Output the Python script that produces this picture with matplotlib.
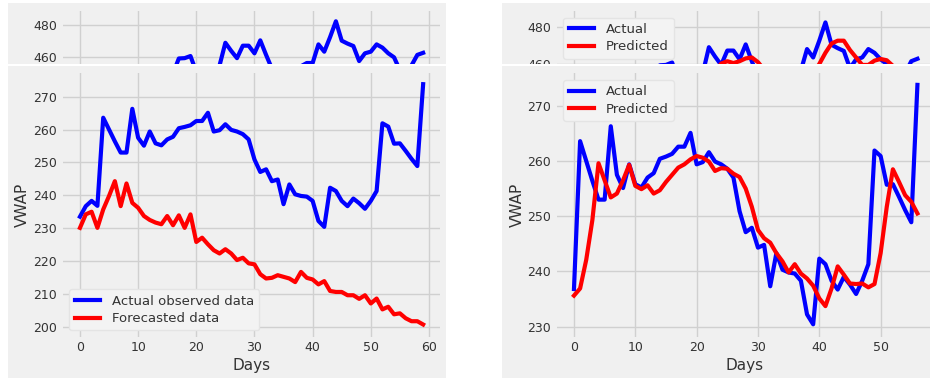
import numpy as np
import matplotlib
matplotlib.use('Agg')
import matplotlib.pyplot as plt
from matplotlib.patches import Rectangle

# ---------------- data ----------------
actual_obs = [233.5, 236.7, 238.3, 236.8, 263.6, 260.0, 256.4, 253.0, 253.0, 266.3,
              257.5, 255.1, 259.4, 255.8, 255.2, 257.0, 257.8, 260.4, 260.8, 261.3,
              262.6, 262.6, 265.1, 259.4, 259.8, 261.6, 259.9, 259.4, 258.6, 257.0,
              250.9, 247.1, 247.9, 244.3, 244.8, 237.3, 243.3, 240.3, 239.8, 239.6,
              238.3, 232.2, 230.4, 242.3, 241.3, 238.3, 236.7, 239.0, 237.6, 235.9,
              238.3, 241.3, 261.9, 260.9, 255.7, 255.8, 253.5, 251.1, 248.9, 273.8]

forecasted = [230.1, 234.2, 235.0, 230.1, 235.7, 239.8, 244.3, 236.7, 243.6, 237.7,
              236.2, 233.7, 232.5, 231.7, 231.2, 233.7, 230.9, 233.9, 230.1, 234.2,
              225.8, 227.1, 225.1, 223.3, 222.3, 223.6, 222.3, 220.3, 221.0, 219.3,
              219.0, 216.0, 214.7, 214.9, 215.7, 215.2, 214.7, 213.6, 216.7, 214.9,
              214.4, 212.9, 213.9, 210.9, 210.6, 210.6, 209.6, 209.6, 208.5, 209.6,
              207.1, 208.6, 205.3, 206.1, 203.8, 204.1, 202.6, 201.7, 201.7, 200.7]

shift = 3
actual_right = actual_obs[shift:]
predicted = [235.6, 236.9, 242.1, 249.3, 259.6, 256.5, 253.4, 254.1, 256.5, 259.3,
             255.5, 254.9, 255.6, 254.1, 254.7, 256.2, 257.5, 258.8, 259.4, 260.3,
             260.9, 260.6, 259.9, 258.2, 258.7, 258.6, 257.7, 257.1, 255.0, 251.7,
             247.5, 246.0, 245.2, 243.3, 241.8, 239.8, 241.3, 239.6, 238.7, 237.4,
             235.1, 233.7, 236.9, 240.9, 239.4, 237.8, 237.7, 237.8, 237.1, 237.7,
             243.3, 251.7, 258.5, 256.2, 253.8, 252.6, 250.5]

nan = np.nan
# chart partly hidden behind (only its top strip is visible); unseen values left as NaN
top_actual = [nan] * 16 + [450, 459.3, 459.5, 460.8, 451, nan, nan, 448, 455, 469,
              464, 459.5, 467.2, 467.2, 462.5, 470.5, 461.5, 453, nan, nan,
              nan, 448, 454.5, 456.5, 456.5, 468, 463.5, 472.5, 482.3, 470.3,
              468.5, 467, 457.7, 462.5, 463.5, 468, 466, 462.5, 460, 452,
              nan, 455, 461.5, 462.8]
top_actual_right = top_actual[shift:]
top_predicted = [nan] * 23 + [456, 460.2, 461.5, 460.5, 461.5, 463, 463.5, 461, 457,
                 nan, nan, nan, nan, nan, nan, nan, 455, 460, 466,
                 471, 472.5, 472.5, 467.5, 463.5, 459.5, 459.5, 461.8, 462.7, 462,
                 459, 456, nan, nan, nan]

left_xticks = [0, 10, 20, 30, 40, 50, 60]
left_yticks = [200, 210, 220, 230, 240, 250, 260, 270]
right_xticks = [0, 10, 20, 30, 40, 50]
right_yticks = [230, 240, 250, 260, 270]
strip_yticks = [460, 480]

# ---------------- style ----------------
W, H = 930, 379
BG = '#f0f0f0'
GRID = '#d0d0d0'
TXT = '#333333'
LW = 3.0

fig = plt.figure(figsize=(W / 100, H / 100), dpi=100)
fig.patch.set_facecolor('white')


def px_axes(x0, x1, y0, y1, z):
    return fig.add_axes([x0 / W, 1 - y1 / H, (x1 - x0) / W, (y1 - y0) / H], zorder=z)


def px_rect(x0, x1, y0, y1, color, z):
    fig.add_artist(Rectangle((x0 / W, 1 - y1 / H), (x1 - x0) / W, (y1 - y0) / H,
                             transform=fig.transFigure, facecolor=color,
                             edgecolor='none', zorder=z))


def style(ax, xticks, yticks, xlabels=True):
    ax.set_facecolor(BG)
    for s in ax.spines.values():
        s.set_visible(False)
    ax.set_xticks(xticks)
    ax.set_yticks(yticks)
    ax.grid(True, color=GRID, linewidth=1.0)
    ax.set_axisbelow(True)
    ax.tick_params(length=0, labelsize=9, labelcolor=TXT, pad=4)
    ax.tick_params(axis='x', pad=3)
    if not xlabels:
        ax.tick_params(axis='x', labelbottom=False)


def legend(ax, loc):
    leg = ax.legend(loc=loc, fontsize=9.5, handlelength=1.9, handletextpad=0.9,
                    labelspacing=0.35, facecolor='#f3f3f3', edgecolor='#e4e4e4',
                    framealpha=1.0, borderaxespad=0.5)
    for t in leg.get_texts():
        t.set_color(TXT)


# top strip backgrounds
px_rect(8, 446, 3, 64, BG, 0.5)
px_rect(502, 930, 3, 64, BG, 0.5)

# ---- left strip (hidden chart) ----
axtl = px_axes(62.8, 440.3, 11, 100, 1)
style(axtl, left_xticks, strip_yticks, xlabels=False)
axtl.plot(range(len(top_actual)), top_actual, color='blue', lw=LW)
axtl.set_xlim(-2.95, 61.95)
axtl.set_ylim(480 - 75 / 1.6167, 480 + 14 / 1.6167)

# ---- right strip (hidden chart) ----
axtr = px_axes(556.8, 934.6, 11, 100, 1)
style(axtr, right_xticks, strip_yticks, xlabels=False)
axtr.plot(range(len(top_actual_right)), top_actual_right, color='blue', lw=LW, label='Actual')
axtr.plot(range(len(top_predicted)), top_predicted, color='red', lw=LW, label='Predicted')
axtr.set_xlim(-2.8, 58.8)
axtr.set_ylim(480 - 73.3 / 1.865, 480 + 15.7 / 1.865)
legend(axtr, 'upper left')

# cover for lower part + lower panel backgrounds
px_rect(0, W, 64, H, 'white', 2)
px_rect(8, 446, 66, 378, BG, 2.1)
px_rect(502, 930, 66, 378, BG, 2.1)

# ---- left main ----
axl = px_axes(62.8, 440.3, 73, 337, 3)
style(axl, left_xticks, left_yticks)
axl.plot(range(len(actual_obs)), actual_obs, color='blue', lw=LW, label='Actual observed data')
axl.plot(range(len(forecasted)), forecasted, color='red', lw=LW, label='Forecasted data')
axl.set_xlim(-2.95, 61.95)
axl.set_ylim(196.9, 277.2)
axl.set_xlabel('Days', fontsize=11, color=TXT)
axl.set_ylabel('VWAP', fontsize=11, color=TXT)
axl.xaxis.set_label_coords(0.5, -0.08)
axl.yaxis.set_label_coords(-0.0869, 0.5)
legend(axl, 'lower left')

# ---- right main ----
axr = px_axes(556.8, 934.6, 73.3, 337, 3)
style(axr, right_xticks, right_yticks)
axr.plot(range(len(actual_right)), actual_right, color='blue', lw=LW, label='Actual')
axr.plot(range(len(predicted)), predicted, color='red', lw=LW, label='Predicted')
axr.set_xlim(-2.8, 58.8)
axr.set_ylim(228.1, 275.9)
axr.set_xlabel('Days', fontsize=11, color=TXT)
axr.set_ylabel('VWAP', fontsize=11, color=TXT)
axr.xaxis.set_label_coords((745 - 556.8) / 377.8, -0.08)
axr.yaxis.set_label_coords(-0.0842, 0.5)
legend(axr, 'upper left')

fig.savefig('out.png', dpi=100, facecolor='white')
